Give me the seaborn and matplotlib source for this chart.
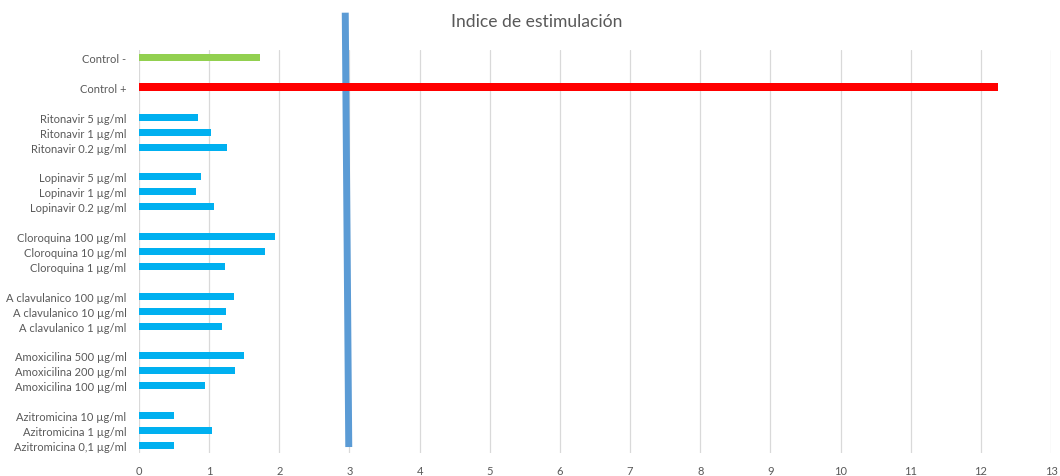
import pandas as pd
import matplotlib.pyplot as plt
import seaborn as sns

# Rows from top to bottom; blank labels are the gaps between groups
labels = ["Control -", " ", "Control +", "  ",
          "Ritonavir 5 µg/ml", "Ritonavir 1 µg/ml", "Ritonavir 0.2 µg/ml", "   ",
          "Lopinavir 5 µg/ml", "Lopinavir 1 µg/ml", "Lopinavir 0.2 µg/ml", "    ",
          "Cloroquina 100 µg/ml", "Cloroquina 10 µg/ml", "Cloroquina 1 µg/ml", "     ",
          "A clavulanico 100 µg/ml", "A clavulanico 10 µg/ml", "A clavulanico 1 µg/ml", "      ",
          "Amoxicilina 500 µg/ml", "Amoxicilina 200 µg/ml", "Amoxicilina 100 µg/ml", "       ",
          "Azitromicina 10 µg/ml", "Azitromicina 1 µg/ml", "Azitromicina 0,1 µg/ml"]
values = [1.72, None, 12.25, None,
          0.84, 1.03, 1.25, None,
          0.88, 0.81, 1.07, None,
          1.94, 1.80, 1.23, None,
          1.35, 1.24, 1.18, None,
          1.50, 1.37, 0.94, None,
          0.50, 1.04, 0.50]
threshold = 3

blue, red, green = "#00b0f0", "#ff0000", "#92d050"
colors = {lab: blue for lab in labels}
colors["Control -"] = green
colors["Control +"] = red

df = pd.DataFrame({"label": labels, "value": values})

sns.set_style("white")
plt.rcParams['font.family'] = ['Lato', 'DejaVu Sans']

fig = plt.figure(figsize=(10.6, 4.77), dpi=100)
ax = fig.add_axes([139 / 1060, 1 - 454 / 477, 912 / 1060, 403 / 477])

sns.barplot(data=df, y="label", x="value", hue="label", palette=colors,
            order=labels, orient="h", width=0.47, legend=False, ax=ax,
            saturation=1, linewidth=0)

# red bar slightly thicker, green slightly thinner
for patch, lab in zip(ax.patches, [l for l, v in zip(labels, values) if v is not None]):
    if lab == "Control +":
        c = patch.get_y() + patch.get_height() / 2
        patch.set_height(0.55)
        patch.set_y(c - 0.275)
    elif lab == "Control -":
        c = patch.get_y() + patch.get_height() / 2
        patch.set_height(0.42)
        patch.set_y(c - 0.21)

# threshold line drawn over the chart (slightly tilted as in the original)
ax.plot([threshold - 0.06, threshold - 0.01], [-3.0, 26.1], color="#5b9bd5",
        lw=5, solid_capstyle="butt", clip_on=False, zorder=0.8)

ax.set_xlim(0, 13)
ax.set_ylim(26.5, -0.5)
ax.set_xticks(range(0, 14))
ax.set_axisbelow(True)
ax.grid(axis="x", color="#d9d9d9", lw=0.9)
ax.grid(axis="y", visible=False)
sns.despine(ax=ax, left=True, bottom=True)
ax.tick_params(axis="both", length=0, labelsize=8, colors="#595959")
ax.tick_params(axis="x", pad=9)
ax.tick_params(axis="y", pad=9)
ax.set_xlabel("")
ax.set_ylabel("")

fig.text(537 / 1060, 1 - 22 / 477, "Indice de estimulación", ha="center",
         va="center", fontsize=12.6, color="#595959")

fig.savefig("out.png", dpi=100)
